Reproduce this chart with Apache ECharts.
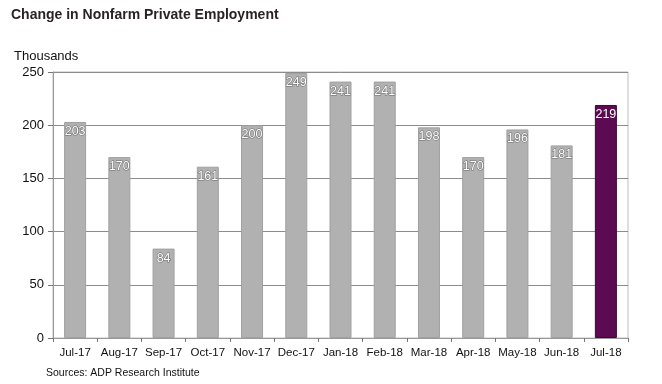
<!DOCTYPE html>
<html><head><meta charset="utf-8">
<script src="https://cdn.jsdelivr.net/npm/echarts@6/dist/echarts.min.js"></script>
<style>html,body{margin:0;padding:0;background:#fff}#c{width:662px;height:384px}</style>
</head><body><div id="c"></div>
<script>
const categories = ['Jul-17','Aug-17','Sep-17','Oct-17','Nov-17','Dec-17','Jan-18','Feb-18','Mar-18','Apr-18','May-18','Jun-18','Jul-18'];
const values = [203,170,84,161,200,249,241,241,198,170,196,181,219];
const yTicks = [0,50,100,150,200,250];
const highlightIndex = 12;

const chart = echarts.init(document.getElementById('c'));
chart.setOption({
  animation:false,
  textStyle:{fontFamily:'Arial, Liberation Sans, sans-serif'},
  title:[
    {text:'Change in Nonfarm Private Employment',left:6,top:3,textStyle:{fontSize:14,fontWeight:'bold',color:'#2b2226',fontFamily:'Arial, Liberation Sans, sans-serif'}},
    {text:'Thousands',left:9,top:45,textStyle:{fontSize:13,fontWeight:'normal',color:'#111',fontFamily:'Arial, Liberation Sans, sans-serif'}},
    {text:'Sources: ADP Research Institute',left:41,top:363,textStyle:{fontSize:10.5,fontWeight:'normal',color:'#111',fontFamily:'Arial, Liberation Sans, sans-serif'}}
  ],
  grid:{left:53,right:34,top:72,bottom:46,show:true,borderColor:'#bdbdbd',borderWidth:1},
  xAxis:{type:'category',data:categories,
    axisLine:{lineStyle:{color:'#9a9a9a'}},
    axisTick:{show:true,alignWithLabel:false,length:4,interval:0,lineStyle:{color:'#777'}},
    axisLabel:{color:'#111',fontSize:11.5,margin:9,interval:0}},
  yAxis:{type:'value',min:0,max:250,interval:50,
    axisLine:{show:true,lineStyle:{color:'#9a9a9a'}},
    axisTick:{show:true,length:5,lineStyle:{color:'#777'}},
    axisLabel:{color:'#111',fontSize:13,margin:9,formatter:v=>yTicks.includes(v)?String(v):''},
    splitLine:{lineStyle:{color:'#8c8c8c',width:1}}},
  series:[{type:'bar',barWidth:22,
    data:values.map((v,i)=>({value:v,itemStyle:i===highlightIndex?{color:'#5c0b52',borderColor:'#3e0737',borderWidth:1}:{color:'#b1b1b1',borderColor:'#a0a0a0',borderWidth:1},
      label:i===highlightIndex?{textBorderWidth:0}:{}})),
    label:{show:true,position:'insideTop',distance:3,color:'#fff',fontSize:12.5,textBorderColor:'#6a6a6a',textBorderWidth:1}
  }]
});
</script></body></html>
